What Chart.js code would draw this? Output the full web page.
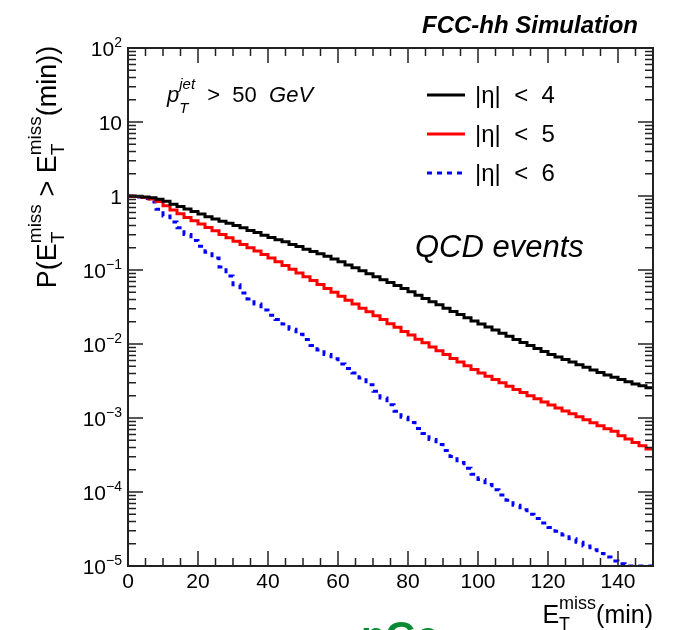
<!DOCTYPE html>
<html>
<head>
<meta charset="utf-8">
<script src="https://cdn.jsdelivr.net/npm/chart.js@4/dist/chart.umd.min.js"></script>
<style>
  html, body { margin: 0; padding: 0; background: #fff; overflow: hidden; }
  #wrap { position: relative; width: 678px; height: 630px; overflow: hidden; }
  #crop { position: absolute; left: 361px; top: 616px; font: bold 40px "Liberation Sans", Arial, sans-serif; line-height: 40px; color: #0a8a32; white-space: nowrap; }
</style>
</head>
<body>
<div id="wrap">
  <canvas id="chart-met" width="678" height="630"></canvas>
  <div id="crop">nGe</div>
</div>
<script>
/* P(ETmiss > ETmiss(min)) — histogramas acumulados, bins de 2 GeV entre 0 y 150 */

const BIN_W = 2;
const X_TICKS = [0, 20, 40, 60, 80, 100, 120, 140];
const Y_DECADES = [-5, -4, -3, -2, -1, 0, 1, 2];
const LABELS = ['|η| < 4', '|η| < 5', '|η| < 6'];

// |eta| < 4
const eta4 = [
  0.998, 0.989, 0.973, 0.944, 0.902,
  0.851, 0.776, 0.724, 0.668, 0.617,
  0.569, 0.525, 0.490, 0.457, 0.427,
  0.398, 0.372, 0.343, 0.320, 0.295,
  0.275, 0.257, 0.240, 0.221, 0.207,
  0.191, 0.178, 0.166, 0.153, 0.141,
  0.129, 0.117, 0.107, 0.0977, 0.0891,
  0.0813, 0.0741, 0.0676, 0.0617, 0.0562,
  0.0507, 0.0457, 0.0412, 0.0372, 0.0339,
  0.0305, 0.0275, 0.0251, 0.0226, 0.0204,
  0.0186, 0.0170, 0.0155, 0.0140, 0.0127,
  0.0115, 0.0105, 0.00955, 0.00871, 0.00794,
  0.00724, 0.00668, 0.00617, 0.00569, 0.00525,
  0.00484, 0.00447, 0.00412, 0.00380, 0.00355,
  0.00331, 0.00309, 0.00288, 0.00272, 0.00257,
];

// |eta| < 5
const eta5 = [
  0.995, 0.982, 0.955, 0.912, 0.841,
  0.741, 0.646, 0.575, 0.513, 0.462,
  0.417, 0.376, 0.339, 0.302, 0.272,
  0.245, 0.221, 0.200, 0.180, 0.162,
  0.145, 0.129, 0.115, 0.102, 0.0912,
  0.0813, 0.0724, 0.0638, 0.0562, 0.0501,
  0.0442, 0.0389, 0.0347, 0.0305, 0.0272,
  0.0240, 0.0214, 0.0188, 0.0168, 0.0148,
  0.0132, 0.0116, 0.0104, 0.00912, 0.00813,
  0.00724, 0.00638, 0.00569, 0.00507, 0.00452,
  0.00407, 0.00367, 0.00331, 0.00299, 0.00269,
  0.00243, 0.00221, 0.00200, 0.00182, 0.00164,
  0.00150, 0.00136, 0.00124, 0.00114, 0.00104,
  0.000944, 0.000861, 0.000785, 0.000716, 0.000661,
  0.000575, 0.000519, 0.000468, 0.000422, 0.000380,
];

// |eta| < 6
const eta6 = [
  0.989, 0.966, 0.923, 0.832, 0.661,
  0.537, 0.447, 0.372, 0.302, 0.251,
  0.209, 0.174, 0.145, 0.110, 0.0832,
  0.0631, 0.0490, 0.0407, 0.0347, 0.0288,
  0.0245, 0.0214, 0.0186, 0.0158, 0.0135,
  0.0115, 0.00955, 0.00832, 0.00724, 0.00631,
  0.00537, 0.00468, 0.00407, 0.00347, 0.00282,
  0.00229, 0.00186, 0.00151, 0.00123, 0.00102,
  0.000871, 0.000724, 0.000617, 0.000513, 0.000437,
  0.000363, 0.000302, 0.000251, 0.000209, 0.000174,
  0.000148, 0.000126, 0.000107, 0.0000912, 0.0000776,
  0.0000661, 0.0000575, 0.0000501, 0.0000437, 0.0000380,
  0.0000331, 0.0000295, 0.0000263, 0.0000234, 0.0000209,
  0.0000186, 0.0000166, 0.0000148, 0.0000132, 0.0000117,
  0.0000107, 0.00001, 0.00001, 0.00001, 0.00001,
];

const FONT = '"Liberation Sans", Arial, Helvetica, sans-serif';
const AXIS = '#222';

// puntos del histograma: borde inferior de cada bin + cierre en el borde final
function toSteps(vals) {
  const pts = vals.map((v, i) => ({ x: i * BIN_W, y: v }));
  pts.push({ x: vals.length * BIN_W, y: vals[vals.length - 1] });
  return pts;
}

// texto con sub/superíndices al estilo TLatex
function font(size, it, b) {
  return (it ? 'italic ' : '') + (b ? 'bold ' : '') + size + 'px ' + FONT;
}
function drawRich(ctx, parts, x, y, F, dry) {
  let cx = x;
  parts.forEach(p => {
    if (p.sup !== undefined || p.sub !== undefined) {
      const s = Math.round(F * 0.7);
      ctx.font = font(s, p.it);
      const wa = p.sup ? ctx.measureText(p.sup).width : 0;
      const wb = p.sub ? ctx.measureText(p.sub).width : 0;
      if (!dry) {
        if (p.sup) ctx.fillText(p.sup, cx, y - F * (p.up || 0.52));
        if (p.sub) ctx.fillText(p.sub, cx, y + F * (p.dn || 0.3));
      }
      cx += Math.max(wa, wb);
    } else {
      ctx.font = font(F, p.it, p.b);
      if (!dry) ctx.fillText(p.t, cx, y);
      cx += ctx.measureText(p.t).width;
    }
  });
  return cx - x;
}

const rootFrame = {
  id: 'rootFrame',
  afterDatasetsDraw(chart) {
    const { ctx, chartArea: a, scales: { x, y } } = chart;
    ctx.save();
    ctx.textAlign = 'left';
    ctx.textBaseline = 'alphabetic';
    ctx.fillStyle = '#000';

    // marco
    ctx.strokeStyle = AXIS;
    ctx.lineWidth = 2;
    ctx.strokeRect(a.left, a.top, a.right - a.left, a.bottom - a.top);

    // ticks eje x (hacia dentro, abajo y arriba)
    ctx.lineWidth = 1.5;
    ctx.beginPath();
    for (let v = 0; v <= 150; v += 5) {
      const px = x.getPixelForValue(v);
      const len = v % 20 === 0 ? 15 : 8;
      ctx.moveTo(px, a.bottom); ctx.lineTo(px, a.bottom - len);
      ctx.moveTo(px, a.top); ctx.lineTo(px, a.top + len);
    }
    // ticks eje y (log)
    Y_DECADES.forEach(d => {
      const py = y.getPixelForValue(Math.pow(10, d));
      ctx.moveTo(a.left, py); ctx.lineTo(a.left + 15, py);
      ctx.moveTo(a.right, py); ctx.lineTo(a.right - 15, py);
      if (d < 2) {
        for (let k = 2; k <= 9; k++) {
          const pm = y.getPixelForValue(k * Math.pow(10, d));
          ctx.moveTo(a.left, pm); ctx.lineTo(a.left + 8, pm);
          ctx.moveTo(a.right, pm); ctx.lineTo(a.right - 8, pm);
        }
      }
    });
    ctx.stroke();

    // etiquetas eje x
    ctx.font = font(21);
    ctx.textAlign = 'center';
    X_TICKS.forEach(v => ctx.fillText(String(v), x.getPixelForValue(v), a.bottom + 22));

    // etiquetas eje y: 10^n
    ctx.textAlign = 'left';
    Y_DECADES.forEach(d => {
      const py = y.getPixelForValue(Math.pow(10, d)) + 7.5;
      let base = '10', sup = '';
      if (d === 0) base = '1';
      else if (d !== 1) sup = d < 0 ? '\u2212' + (-d) : String(d);
      ctx.font = font(21);
      const wb = ctx.measureText(base).width;
      ctx.font = font(14);
      const ws = sup ? ctx.measureText(sup).width : 0;
      const x0 = a.left - 6 - wb - ws;
      ctx.font = font(21);
      ctx.fillText(base, x0, py);
      if (sup) { ctx.font = font(14); ctx.fillText(sup, x0 + wb, py - 9); }
    });

    // título eje x
    const xt = [{ t: 'E' }, { sup: 'miss', sub: 'T', up: 0.55, dn: 0.28 }, { t: '(min)' }];
    const wx = drawRich(ctx, xt, 0, 0, 25, true);
    drawRich(ctx, xt, a.right - wx, 623, 25);

    // título eje y (rotado)
    const yt = [{ t: 'P(E' }, { sup: 'miss', sub: 'T', up: 0.55, dn: 0.28 }, { t: ' > E' },
                { sup: 'miss', sub: 'T', up: 0.55, dn: 0.28 }, { t: '(min))' }];
    const wy = drawRich(ctx, yt, 0, 0, 27, true);
    ctx.save();
    ctx.translate(56, 167);
    ctx.rotate(-Math.PI / 2);
    drawRich(ctx, yt, -wy / 2, 0, 27);
    ctx.restore();

    // cabecera
    ctx.font = font(24, true, true);
    ctx.textAlign = 'right';
    ctx.fillText('FCC-hh Simulation', 638, 33);
    ctx.textAlign = 'left';

    // corte en pT
    drawRich(ctx, [{ t: 'p', it: true }, { sup: 'jet', sub: 'T', it: true, up: 0.57, dn: 0.48 },
                   { t: '  >  50  ' }, { t: 'GeV', it: true }], 167, 102, 22);

    ctx.font = font(31, true);
    ctx.fillText('QCD events', 415, 257);

    // leyenda
    chart.data.datasets.forEach((ds, i) => {
      const ly = 95 + i * 39;
      ctx.save();
      ctx.strokeStyle = ds.borderColor;
      ctx.lineWidth = 3;
      ctx.setLineDash(ds.borderDash || []);
      ctx.beginPath();
      ctx.moveTo(427, ly); ctx.lineTo(465, ly);
      ctx.stroke();
      ctx.restore();
      ctx.font = font(24);
      ctx.fillText(ds.label.replace(/ /g, '  '), 475, ly + 8);
    });

    ctx.restore();
  },
};

const line = (label, vals, color, dash) => ({
  label,
  data: toSteps(vals),
  borderColor: color,
  borderWidth: 3,
  borderDash: dash,
  pointRadius: 0,
  stepped: true,
  fill: false,
});

new Chart(document.getElementById('chart-met'), {
  type: 'line',
  data: {
    datasets: [
      line(LABELS[0], eta4, '#000000', []),
      line(LABELS[1], eta5, '#ff0000', []),
      line(LABELS[2], eta6, '#0000ff', [5, 5]),
    ],
  },
  options: {
    responsive: false,
    animation: false,
    devicePixelRatio: 1,
    layout: { padding: { left: 128, right: 25, top: 48, bottom: 64 } },
    plugins: { legend: { display: false }, tooltip: { enabled: false } },
    scales: {
      x: { type: 'linear', min: 0, max: 150, display: false },
      y: { type: 'logarithmic', min: 1e-5, max: 100, display: false },
    },
  },
  plugins: [rootFrame],
});
</script>
</body>
</html>
